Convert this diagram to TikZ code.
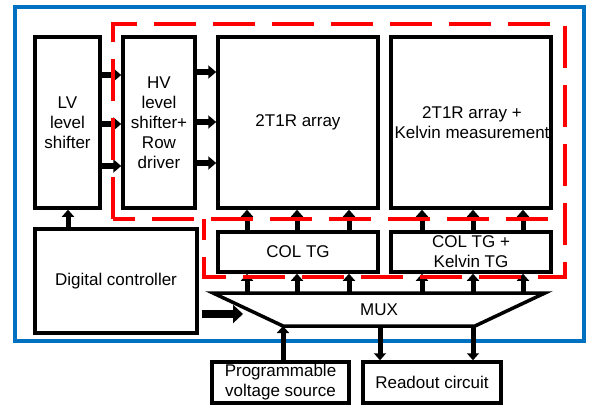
\documentclass[tikz,border=0pt]{standalone}
\usepackage{fontspec}
\setmainfont{Liberation Sans}
\usetikzlibrary{arrows.meta}
\definecolor{frameblue}{RGB}{0,112,192}
\definecolor{dashred}{RGB}{255,0,0}
\begin{document}
\begin{tikzpicture}[x=1pt,y=-1pt,
  box/.style={draw=black, line width=3.5pt, fill=white, inner sep=0pt, align=center,
    font=\fontsize{17}{20}\selectfont},
  lbl/.style={inner sep=0pt, align=center, font=\fontsize{17}{20}\selectfont},
  harr/.style={line width=6pt, -{Triangle[length=8pt,width=13pt]}},
  varr/.style={line width=5pt, -{Triangle[length=7pt,width=12pt]}},
  bigarr/.style={line width=8pt, -{Triangle[length=10pt,width=18pt]}},
  reddash/.style={draw=dashred, line width=4.5pt, dash pattern=on 42pt off 17pt}
]
\useasboundingbox (0,0) rectangle (598,412);
% outer blue frame
\draw[frameblue, line width=4pt] (15,7) rectangle (584,341);

% boxes
\node[box, minimum width=65pt, minimum height=171pt] (lv) at (67.5,122.5) {LV\\level\\shifter};
\node[box, minimum width=72pt, minimum height=171pt] (hv) at (159,122.5) {HV\\level\\shifter+\\Row\\driver};
\node[box, minimum width=160pt, minimum height=171pt] (arr) at (298,122.5) {2T1R array};
\node[box, minimum width=160pt, minimum height=171pt] (kel) at (471,122.5) {};
\node[lbl] (keltxt) at (472,123) {2T1R array +\\Kelvin measurement};
\node[box, minimum width=162pt, minimum height=104pt] (dc) at (116,281) {Digital controller};
\node[box, minimum width=160pt, minimum height=40pt] (tg1) at (298,252) {COL TG};
\node[box, minimum width=160pt, minimum height=40pt] (tg2) at (471,252) {COL TG +\\Kelvin TG};
\node[box, minimum width=137pt, minimum height=41pt] (pvs) at (280.5,382.5) {Programmable\\voltage source};
\node[box, minimum width=138pt, minimum height=41pt] (ro) at (432,382.5) {Readout circuit};

% MUX trapezoid
\coordinate (mtl) at (213,293);
\coordinate (mtr) at (545,293);
\coordinate (mbr) at (475,326);
\coordinate (mbl) at (283,326);
\draw[line width=3.5pt, line join=miter] (mtl) -- (mtr) -- (mbr) -- (mbl) -- cycle;
\node[lbl] (mux) at (379,310) {MUX};

% LV -> HV
\foreach \yy in {75,124,166}
  \draw[harr] (lv.east |- 0,\yy) -- (hv.west |- 0,\yy);
% HV -> array
\foreach \yy in {72,122,163}
  \draw[harr] (hv.east |- 0,\yy) -- (arr.west |- 0,\yy);
% DC -> LV
\draw[varr] (dc.north -| 68,0) -- (lv.south -| 68,0);
% TG -> arrays
\foreach \xx in {247,297,349}
  \draw[varr] (tg1.north -| \xx,0) -- (arr.south -| \xx,0);
\foreach \xx in {422,473,523}
  \draw[varr] (tg2.north -| \xx,0) -- (kel.south -| \xx,0);
% MUX -> TG
\foreach \xx in {247,297,349}
  \draw[varr] (mtl -| \xx,0) -- (tg1.south -| \xx,0);
\foreach \xx in {422,473,523}
  \draw[varr] (mtl -| \xx,0) -- (tg2.south -| \xx,0);
% DC -> MUX
\coordinate (dcm) at (243,314);
\draw[bigarr] ([xshift=3pt]dc.east |- dcm) -- (dcm);
% PVS -> MUX
\draw[varr] (pvs.north -| mbl) -- (mbl);
% MUX -> readout
\draw[varr] (mbl -| 380,0) -- (ro.north -| 380,0);
\draw[varr] (mbr -| 473,0) -- (ro.north -| 473,0);

% red dashed region
\draw[reddash] (113,219) -- (113,24) -- (565,24) -- (565,277) -- (204,277) -- (204,219);
\draw[reddash, dash phase=20pt] (113,219) -- (553,219);
\end{tikzpicture}
\end{document}
